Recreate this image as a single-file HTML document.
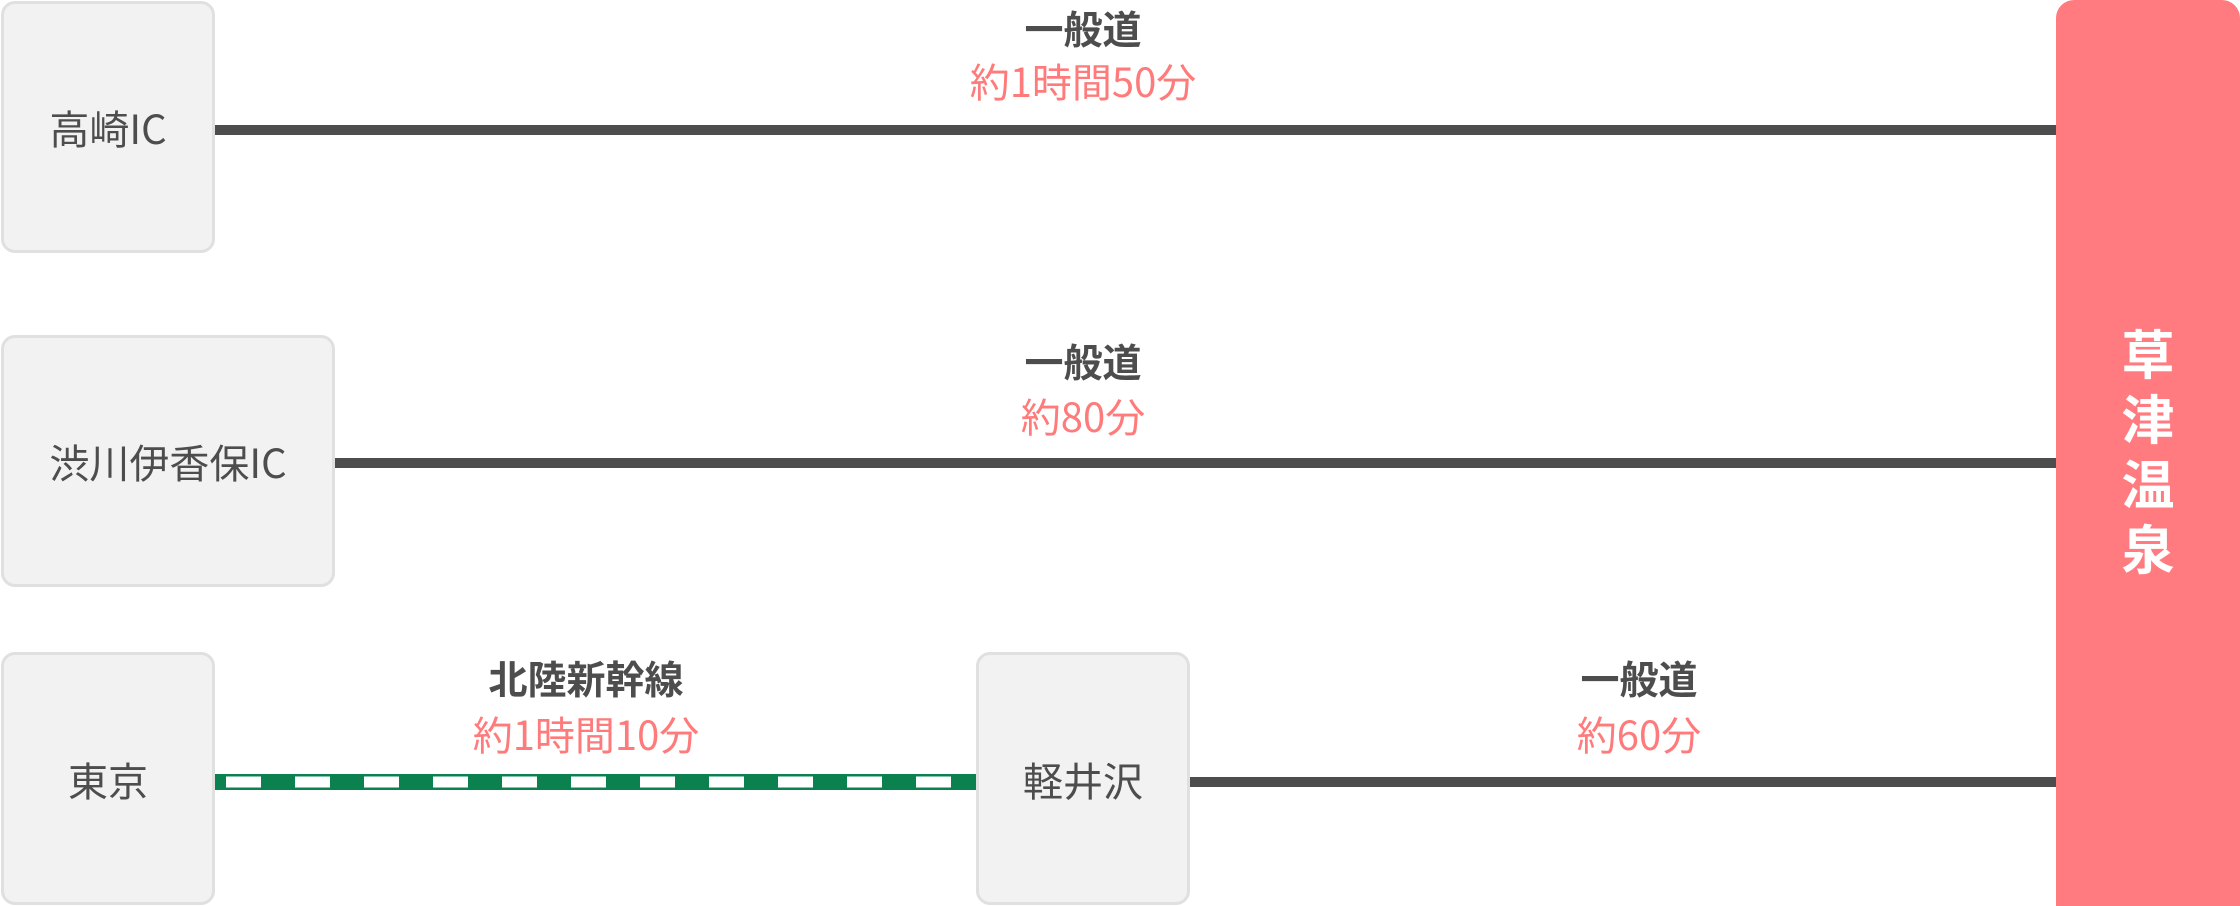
<!DOCTYPE html>
<html><head><meta charset="utf-8"><style>
body{margin:0;width:2240px;height:906px;background:#fff;position:relative;overflow:hidden;font-family:"Noto Sans CJK JP","Liberation Sans",sans-serif;}
.box{position:absolute;box-sizing:border-box;background:#f2f2f2;border:3px solid #e0e0e0;border-radius:14px;display:flex;align-items:center;justify-content:center;color:#4d4d4d;font-size:40px;}
.line{position:absolute;height:10px;background:#4d4d4d;}
.lbl{position:absolute;transform:translateX(-50%);text-align:center;white-space:nowrap;line-height:1;}
.t{font-weight:bold;color:#4d4d4d;font-size:39px;}
.p{color:#ff7b7b;font-size:40px;}
</style></head><body>
<div class="box" style="left:1px;top:1px;width:214px;height:252px;">高崎IC</div>
<div class="box" style="left:1px;top:335px;width:334px;height:252px;">渋川伊香保IC</div>
<div class="box" style="left:1px;top:652px;width:214px;height:253px;">東京</div>
<div class="box" style="left:976px;top:652px;width:214px;height:253px;">軽井沢</div>
<div style="position:absolute;left:2056px;top:0;width:184px;height:906px;background:#ff7b7f;border-radius:18px 18px 0 0;"></div>
<div style="position:absolute;left:2056px;top:320px;width:184px;color:#fff;font-weight:bold;font-size:53px;line-height:65px;text-align:center;">草<br>津<br>温<br>泉</div>
<div class="line" style="left:215px;top:125px;width:1841px;"></div>
<div class="line" style="left:335px;top:458px;width:1721px;"></div>
<div class="line" style="left:1190px;top:777px;width:866px;"></div>
<svg style="position:absolute;left:215px;top:774px" width="761" height="16">
<rect x="0" y="0" width="761" height="16" fill="#0b8150"/>
<line x1="11" y1="8" x2="761" y2="8" stroke="#fff" stroke-width="11" stroke-dasharray="35 34"/>
</svg>
<div class="lbl t" style="left:1083px;top:9px;">一般道</div>
<div class="lbl p" style="left:1083px;top:60px;">約1時間50分</div>
<div class="lbl t" style="left:1083px;top:342px;">一般道</div>
<div class="lbl p" style="left:1083px;top:395px;">約80分</div>
<div class="lbl t" style="left:586px;top:659px;">北陸新幹線</div>
<div class="lbl p" style="left:586px;top:713px;">約1時間10分</div>
<div class="lbl t" style="left:1639px;top:659px;">一般道</div>
<div class="lbl p" style="left:1639px;top:713px;">約60分</div>
</body></html>
